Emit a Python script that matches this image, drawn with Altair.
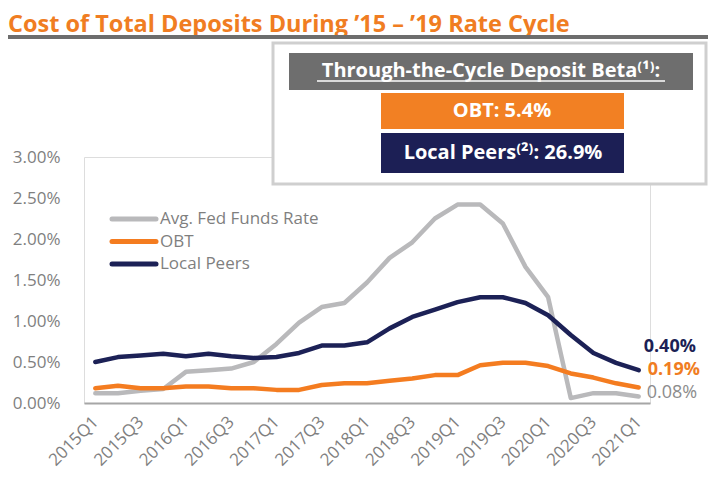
import altair as alt
import pandas as pd

quarters = ["2015Q1", "2015Q2", "2015Q3", "2015Q4", "2016Q1", "2016Q2", "2016Q3", "2016Q4",
            "2017Q1", "2017Q2", "2017Q3", "2017Q4", "2018Q1", "2018Q2", "2018Q3", "2018Q4",
            "2019Q1", "2019Q2", "2019Q3", "2019Q4", "2020Q1", "2020Q2", "2020Q3", "2020Q4",
            "2021Q1"]
tick_labels = ["2015Q1", "2015Q3", "2016Q1", "2016Q3", "2017Q1", "2017Q3", "2018Q1",
               "2018Q3", "2019Q1", "2019Q3", "2020Q1", "2020Q3", "2021Q1"]
fed_funds = [0.12, 0.12, 0.15, 0.17, 0.38, 0.40, 0.42, 0.50, 0.72, 0.98, 1.17, 1.22, 1.47,
             1.77, 1.96, 2.25, 2.42, 2.42, 2.19, 1.66, 1.29, 0.06, 0.12, 0.12, 0.08]
obt = [0.18, 0.21, 0.18, 0.18, 0.20, 0.20, 0.18, 0.18, 0.16, 0.16, 0.22, 0.24, 0.24,
       0.27, 0.30, 0.34, 0.34, 0.46, 0.49, 0.49, 0.45, 0.36, 0.31, 0.24, 0.19]
local_peers = [0.50, 0.56, 0.58, 0.60, 0.57, 0.60, 0.57, 0.55, 0.56, 0.61, 0.70, 0.70, 0.74,
               0.91, 1.05, 1.14, 1.23, 1.29, 1.29, 1.22, 1.07, 0.83, 0.61, 0.49, 0.40]
series_names = ["Avg. Fed Funds Rate", "OBT", "Local Peers"]
series_colors = ["#B9B9BB", "#F47C20", "#1C2156"]
y_ticks = [0, 0.5, 1.0, 1.5, 2.0, 2.5, 3.0]

title_text = "Cost of Total Deposits During \u201915 \u2013 \u201919 Rate Cycle"
box_header = "Through-the-Cycle Deposit Beta\u207d\u00b9\u207e:"
box_obt = "OBT: 5.4%"
box_peers = "Local Peers\u207d\u00b2\u207e: 26.9%"

ORANGE = "#F07D22"
NAVY = "#1C1F55"
GRAY_TXT = "#7F7F7F"
FONT = "Open Sans"

rows = []
for name, vals in zip(series_names, [fed_funds, obt, local_peers]):
    for q, v in zip(quarters, vals):
        rows.append({"quarter": q, "value": v, "series": name})
df = pd.DataFrame(rows)
dummy = pd.DataFrame({"a": [0]})

W, H = 566, 246

x_enc = alt.X("quarter:O", sort=quarters,
              scale=alt.Scale(type="point", padding=0.5),
              axis=alt.Axis(values=tick_labels, labelAngle=-45, labelAlign="right",
                            labelBaseline="middle", labelFontSize=17, labelColor=GRAY_TXT,
                            labelFont=FONT, labelPadding=16, ticks=False, domain=True,
                            domainColor="#A6A6A6", domainWidth=2, grid=False, title=None,
                            labelOverlap=False))
y_enc = alt.Y("value:Q", scale=alt.Scale(domain=[0, 3], nice=False),
              axis=alt.Axis(values=y_ticks, labelExpr="format(datum.value, '.2f') + '%'",
                            labelFontSize=17, labelColor=GRAY_TXT, labelFont=FONT,
                            labelPadding=24, ticks=False, domain=False, grid=False,
                            title=None))

layers = []
for name, col in zip(series_names, series_colors):
    layers.append(
        alt.Chart(df).transform_filter(alt.datum.series == name)
        .mark_line(strokeWidth=4.5, color=col, strokeCap="round", strokeJoin="round")
        .encode(x=x_enc, y=y_enc)
    )

# end-of-line value labels
end_specs = [("Local Peers", NAVY, "bold", 5, -23),
             ("OBT", ORANGE, "bold", 9, -17),
             ("Avg. Fed Funds Rate", "#8C8C8C", "normal", 8, -3)]
for name, col, weight, dx, dy in end_specs:
    layers.append(
        alt.Chart(df).transform_filter(
            (alt.datum.series == name) & (alt.datum.quarter == quarters[-1]))
        .transform_calculate(lbl="format(datum.value, '.2f') + '%'")
        .mark_text(align="left", baseline="middle", fontSize=18, fontWeight=weight,
                   color=col, font=FONT, dx=dx, dy=dy)
        .encode(x=alt.X("quarter:O", sort=quarters), y=alt.Y("value:Q"), text="lbl:N")
    )

# manual legend
for i, (name, col) in enumerate(zip(series_names, series_colors)):
    ly = 62 + i * 22.5
    layers.append(alt.Chart(dummy).mark_rule(strokeWidth=5, color=col, strokeCap="round")
                  .encode(x=alt.value(28), x2=alt.value(72), y=alt.value(ly)))
    layers.append(alt.Chart(dummy).mark_text(align="left", baseline="middle", fontSize=17,
                                             color=GRAY_TXT, font=FONT, text=name)
                  .encode(x=alt.value(76), y=alt.value(ly)))

# title and separator
layers.append(alt.Chart(dummy).mark_text(align="left", baseline="middle", fontSize=23.5,
                                         fontWeight="bold", color=ORANGE, font=FONT,
                                         text=title_text)
              .encode(x=alt.value(-76), y=alt.value(-132)))
layers.append(alt.Chart(dummy).mark_rect(color="#6D6D6D")
              .encode(x=alt.value(-76), x2=alt.value(624), y=alt.value(-122),
                      y2=alt.value(-118)))

# callout box
layers.append(alt.Chart(dummy).mark_rect(fill="white", stroke="#CFCFCF", strokeWidth=3)
              .encode(x=alt.value(189), x2=alt.value(622), y=alt.value(-114),
                      y2=alt.value(27)))
layers.append(alt.Chart(dummy).mark_rect(color="#6E6E6E")
              .encode(x=alt.value(205), x2=alt.value(609), y=alt.value(-104),
                      y2=alt.value(-67)))
layers.append(alt.Chart(dummy).mark_rect(color="#F28023")
              .encode(x=alt.value(297), x2=alt.value(540), y=alt.value(-64),
                      y2=alt.value(-28)))
layers.append(alt.Chart(dummy).mark_rect(color=NAVY)
              .encode(x=alt.value(297), x2=alt.value(540), y=alt.value(-24),
                      y2=alt.value(16)))
layers.append(alt.Chart(dummy).mark_text(align="center", baseline="middle", fontSize=20,
                                         fontWeight="bold", color="white", font=FONT,
                                         text=box_header)
              .encode(x=alt.value(407), y=alt.value(-86)))
layers.append(alt.Chart(dummy).mark_rule(color="white", strokeWidth=1.5)
              .encode(x=alt.value(233), x2=alt.value(581), y=alt.value(-76)))
layers.append(alt.Chart(dummy).mark_text(align="center", baseline="middle", fontSize=20,
                                         fontWeight="bold", color="white", font=FONT,
                                         text=box_obt)
              .encode(x=alt.value(418), y=alt.value(-46)))
layers.append(alt.Chart(dummy).mark_text(align="center", baseline="middle", fontSize=20,
                                         fontWeight="bold", color="white", font=FONT,
                                         text=box_peers)
              .encode(x=alt.value(419), y=alt.value(-4)))

chart = (alt.layer(*layers)
         .properties(width=W, height=H,
                     autosize=alt.AutoSizeParams(type="none"),
                     padding={"left": 76, "top": 149, "right": 58, "bottom": 67})
         .configure_view(stroke=None)
         .configure(background="white"))

chart.save("out.html", embed_options={"renderer": "svg", "actions": False})
